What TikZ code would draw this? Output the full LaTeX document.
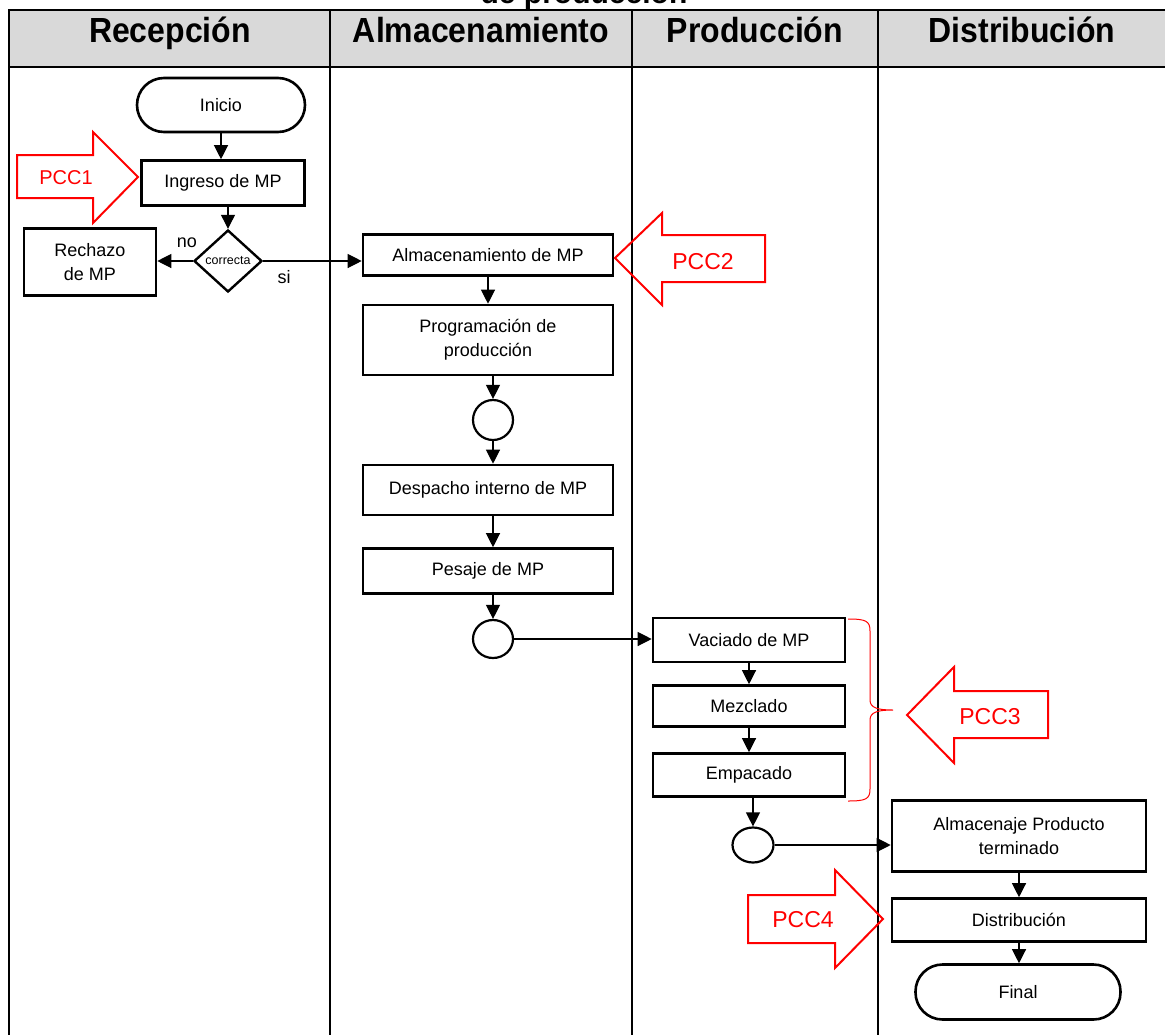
\documentclass[tikz,border=0pt]{standalone}
\usepackage{fontspec}
\setmainfont{Liberation Sans}
\usetikzlibrary{shapes.geometric,arrows.meta}
\definecolor{headergray}{HTML}{D9D9D9}
\definecolor{pccred}{HTML}{FF0000}
\newcommand{\hdrtext}[1]{\scalebox{1}[1.09]{#1}}
\tikzset{
  box/.style={draw, line width=2.6pt, rectangle, align=center, inner sep=0pt,
    font=\fontsize{18}{24}\selectfont},
  stadium/.style={box, rounded corners=27pt},
  junction/.style={draw, line width=2.2pt, ellipse, inner sep=0pt},
  flow/.style={line width=1.2pt, -{Triangle[length=14pt,width=14pt]}},
  lane/.style={line width=2.5pt},
  hdr/.style={anchor=base, font=\fontsize{32}{36}\selectfont\bfseries},
  pccarrow/.style={draw=pccred, line width=2pt, line join=miter},
  pcctext/.style={text=pccred, font=\fontsize{23}{26}\selectfont, inner sep=0pt},
  lbl/.style={inner sep=0pt, font=\fontsize{18}{20}\selectfont}
}
\begin{document}
\begin{tikzpicture}[x=1pt,y=-1pt]
\useasboundingbox (0,0) rectangle (1165,1034);
\clip (0,0) rectangle (1165,1034);
% title (cut off at the top edge, as in the source)
\node[hdr, font=\fontsize{30}{34}\selectfont\bfseries] (title) at (584,3) {de producción};
% header
\fill[headergray] (9,10) rectangle (1175,67);
\draw[lane] (1175,10) -- (9,10) -- (9,1040);
\draw[lane] (9,67) -- (1175,67);
\draw[lane] (330,10) -- (330,1040);
\draw[lane] (632,10) -- (632,1040);
\draw[lane] (878,10) -- (878,1040);
\node[hdr] (h1) at (170,42) {\hdrtext{Recepción}};
\node[hdr] (h2) at (481,42) {\hdrtext{Almacenamiento}};
\node[hdr] (h3) at (755,42) {\hdrtext{Producción}};
\node[hdr] (h4) at (1022,42) {\hdrtext{Distribución}};
% nodes
\node[stadium, minimum width=168pt, minimum height=54pt] (inicio) at (221,105) {Inicio};
\node[box, minimum width=163pt, minimum height=45pt] (ingreso) at (223,183) {Ingreso de MP};
\node[draw, line width=2.4pt, diamond, inner sep=0pt, minimum width=68pt, minimum height=62pt,
      font=\fontsize{12.5}{14}\selectfont] (dia) at (228,261) {correcta};
\node[box, minimum width=132pt, minimum height=67pt] (rechazo) at (90,262) {Rechazo\\de MP};
\node[lbl] (lno) at (187,243) {no};
\node[lbl] (lsi) at (284,277) {si};
\node[box, minimum width=250pt, minimum height=41pt] (alm) at (488,255) {Almacenamiento de MP};
\node[box, minimum width=250pt, minimum height=70pt] (prog) at (488,340) {Programación de\\producción};
\node[junction, minimum width=40pt, minimum height=40pt] (c1) at (493,420) {};
\node[box, minimum width=250pt, minimum height=50pt] (desp) at (488,490) {Despacho interno de MP};
\node[box, minimum width=250pt, minimum height=45pt] (pesaje) at (488,571) {Pesaje de MP};
\node[junction, minimum width=40pt, minimum height=38pt] (c2) at (493,639) {};
\node[box, minimum width=192pt, minimum height=44pt] (vac) at (749,640) {Vaciado de MP};
\node[box, minimum width=192pt, minimum height=41pt] (mez) at (749,706) {Mezclado};
\node[box, minimum width=192pt, minimum height=43pt] (emp) at (749,775) {Empacado};
\node[junction, minimum width=41pt, minimum height=35pt] (c3) at (753,845) {};
\node[box, minimum width=254pt, minimum height=71pt] (almp) at (1019,836) {Almacenaje Producto\\terminado};
\node[box, minimum width=254pt, minimum height=43pt] (dist) at (1019,920) {Distribución};
\node[stadium, minimum width=205pt, minimum height=55pt] (final) at (1018,992) {Final};
% connectors
\draw[flow] (inicio.south) -- (ingreso.north -| inicio.south);
\draw[flow] (ingreso.south -| dia.north) -- (dia.north);
\draw[flow] (dia.west) -- (dia.west -| rechazo.east);
\draw[flow] (dia.east) -- (dia.east -| alm.west);
\draw[flow] (alm.south) -- (prog.north);
\draw[flow] (prog.south -| c1.north) -- (c1.north);
\draw[flow] (c1.south) -- (c1.south |- desp.north);
\draw[flow] (desp.south -| c1.south) -- (pesaje.north -| c1.south);
\draw[flow] (pesaje.south -| c2.north) -- (c2.north);
\draw[flow] (c2.east) -- (c2.east -| vac.west);
\draw[flow] (vac.south) -- (mez.north);
\draw[flow] (mez.south) -- (emp.north);
\draw[flow] (emp.south -| c3.north) -- (c3.north);
\draw[flow] (c3.east) -- (c3.east -| almp.west);
\draw[flow] (almp.south) -- (dist.north);
\draw[flow] (dist.south) -- (dist.south |- final.north);
% PCC block arrows
\draw[pccarrow] (17,155) -- (93,155) -- (93,132) -- (138,177) -- (93,223) -- (93,198) -- (17,198) -- cycle;
\node[pcctext, font=\fontsize{20}{24}\selectfont] (pcc1) at (66,178) {PCC1};
\draw[pccarrow] (765,235) -- (662,235) -- (662,213) -- (615,258) -- (662,305) -- (662,282) -- (765,282) -- cycle;
\node[pcctext] (pcc2) at (703,262) {PCC2};
\draw[pccarrow] (1048,691) -- (954,691) -- (954,667) -- (907,715) -- (954,763) -- (954,738) -- (1048,738) -- cycle;
\node[pcctext] (pcc3) at (990,717) {PCC3};
\draw[pccarrow] (748,895) -- (835,895) -- (835,870) -- (883,919) -- (835,968) -- (835,943) -- (748,943) -- cycle;
\node[pcctext] (pcc4) at (803,920) {PCC4};
% brace
\draw[pccred, line width=1pt] (848,619) .. controls (866,619) and (870,621) .. (870,631)
  -- (870,700) .. controls (870,708) and (878,710) .. (893,710)
  .. controls (878,710) and (870,712) .. (870,720)
  -- (870,789) .. controls (870,799) and (866,801) .. (848,801);
\end{tikzpicture}
\end{document}
